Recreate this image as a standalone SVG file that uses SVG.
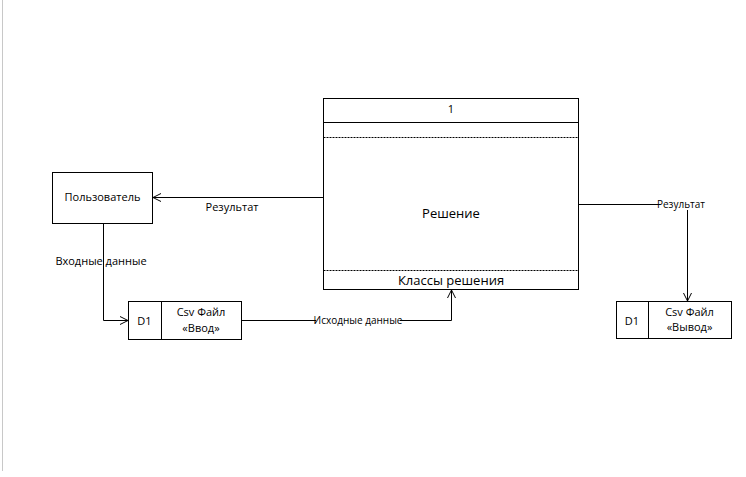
<svg xmlns="http://www.w3.org/2000/svg" width="746" height="477" viewBox="0 0 746 477">
<defs>
<marker id="arr" markerWidth="10" markerHeight="10" refX="9" refY="5" orient="auto" markerUnits="userSpaceOnUse">
<path d="M1,1 L9,5 L1,9" fill="none" stroke="#000" stroke-width="1"/>
</marker>
<style>
.box{fill:#fff;stroke:#000;stroke-width:1}
.ln{fill:none;stroke:#000;stroke-width:1}
.dash{fill:none;stroke:#000;stroke-width:1;stroke-dasharray:2,1}
text{font-family:"Open Sans","DejaVu Sans",sans-serif;font-size:11px;fill:#000}
.c{text-anchor:middle}
.big{font-size:13px}
</style>
</defs>
<rect width="746" height="477" fill="#fff"/>
<line x1="2.5" y1="0" x2="2.5" y2="471" stroke="#c8c8c8" stroke-width="1"/>
<g id="connectors">
<line class="ln" x1="323" y1="197.5" x2="153" y2="197.5" marker-end="url(#arr)"/>
<text x="232" y="211" class="c">Результат</text>
<polyline class="ln" points="103.5,223 103.5,320.5 128,320.5" marker-end="url(#arr)"/>
<text x="101" y="265" class="c">Входные данные</text>
<polyline class="ln" points="241,320.5 451.5,320.5 451.5,290" marker-end="url(#arr)"/>
<rect x="316" y="314" width="84" height="12" fill="#fff"/>
<text x="358" y="324" class="c" style="font-size:10px">Исходные данные</text>
<polyline class="ln" points="578,204.5 687.5,204.5 687.5,301" marker-end="url(#arr)"/>
<rect x="659" y="198" width="45" height="12" fill="#fff"/>
<text x="681" y="208" class="c" style="font-size:10px">Результат</text>
</g>
<g id="process">
<rect class="box" x="323.5" y="98.5" width="255" height="191"/>
<line class="ln" x1="323.5" y1="122.5" x2="578.5" y2="122.5"/>
<line class="dash" x1="323.5" y1="137.5" x2="578.5" y2="137.5"/>
<line class="dash" x1="323.5" y1="270.5" x2="578.5" y2="270.5"/>
<text x="451" y="113" class="c">1</text>
<text x="451" y="218" class="c big">Решение</text>
<text x="451" y="285" class="c big">Классы решения</text>
</g>
<g id="user">
<rect class="box" x="52.5" y="172.5" width="100" height="51"/>
<text x="102.5" y="201" class="c">Пользователь</text>
</g>
<g id="store-input">
<rect class="box" x="128.5" y="301.5" width="113" height="38"/>
<line class="ln" x1="161.5" y1="301.5" x2="161.5" y2="339.5"/>
<text x="144.5" y="325" class="c">D1</text>
<text x="201" y="316" class="c">Csv Файл</text>
<text x="201" y="332" class="c">«Ввод»</text>
</g>
<g id="store-output">
<rect class="box" x="616.5" y="301.5" width="115" height="37"/>
<line class="ln" x1="648.5" y1="301.5" x2="648.5" y2="338.5"/>
<text x="632" y="325" class="c">D1</text>
<text x="689.5" y="316" class="c">Csv Файл</text>
<text x="689.5" y="331" class="c">«Вывод»</text>
</g>
</svg>
